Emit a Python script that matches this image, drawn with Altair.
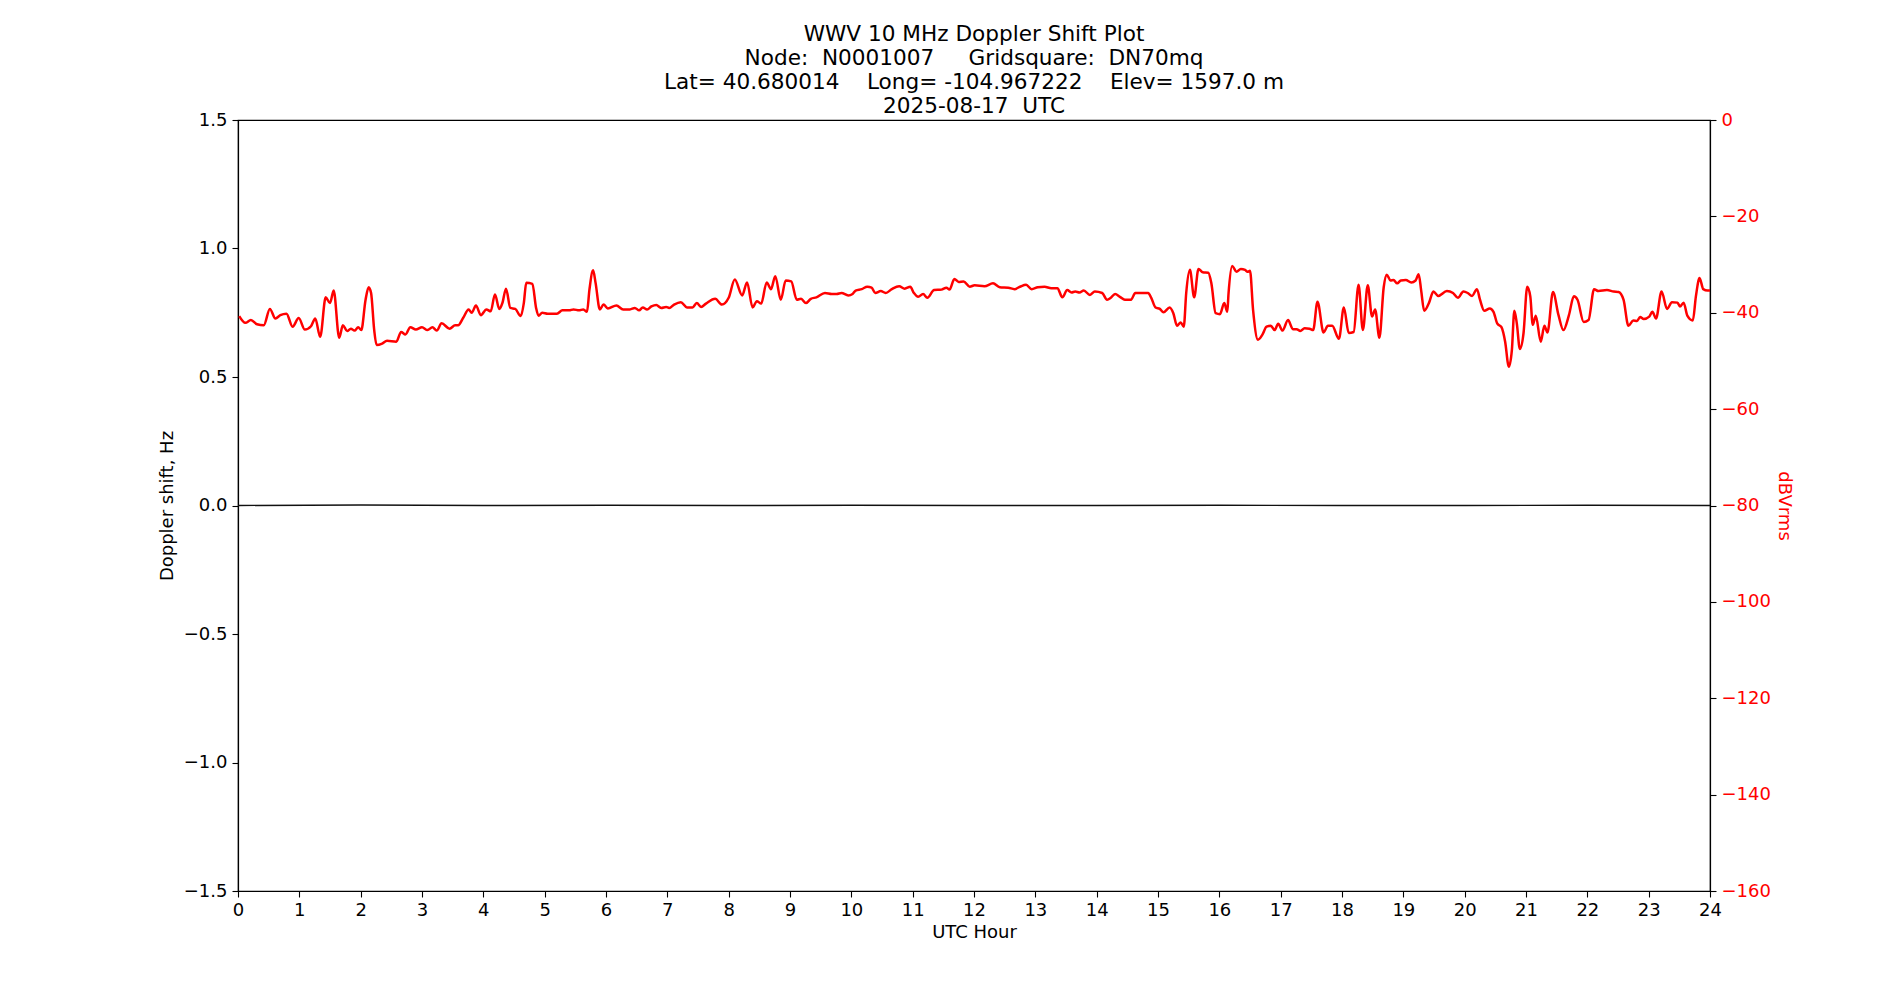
import altair as alt
import pandas as pd

# received signal level (UTC hour, dBVrms)
hours = [
    0.02, 0.12, 0.21, 0.31, 0.42, 0.52, 0.61, 0.69, 0.79, 0.89, 0.99, 1.09, 1.19, 1.26, 1.34,
    1.43, 1.50, 1.56, 1.65, 1.71, 1.78, 1.84, 1.90, 1.96, 2.01, 2.08, 2.13, 2.17, 2.22, 2.26,
    2.35, 2.43, 2.58, 2.66, 2.73, 2.81, 2.90, 3.00, 3.09, 3.17, 3.24, 3.32, 3.45, 3.54, 3.59,
    3.67, 3.76, 3.81, 3.88, 3.96,
    4.05, 4.12, 4.19, 4.26, 4.31, 4.37, 4.44, 4.52, 4.61, 4.66, 4.70, 4.80, 4.86, 4.90, 4.96,
    5.05, 5.20, 5.29, 5.40, 5.47, 5.56, 5.63, 5.69, 5.73, 5.79, 5.83, 5.90, 5.96, 6.03, 6.17,
    6.28, 6.39, 6.47, 6.54, 6.60, 6.67, 6.74, 6.82, 6.90, 6.98, 7.03, 7.11, 7.22, 7.32, 7.41,
    7.48, 7.55, 7.63, 7.78, 7.89, 8.00,
    8.10, 8.22, 8.30, 8.39, 8.46, 8.53, 8.62, 8.69, 8.76, 8.85, 8.93, 9.02, 9.11, 9.18, 9.26,
    9.34, 9.43, 9.57, 9.68, 9.76, 9.84, 9.95, 10.02, 10.07, 10.17, 10.26, 10.33, 10.39, 10.48,
    10.56, 10.66, 10.78, 10.87, 10.96, 11.02, 11.09, 11.17, 11.24, 11.35, 11.47, 11.55, 11.60,
    11.68, 11.75, 11.83, 11.93, 12.01,
    12.17, 12.31, 12.42, 12.56, 12.66, 12.75, 12.85, 12.94, 13.04, 13.15, 13.26, 13.36, 13.44,
    13.52, 13.59, 13.65, 13.72, 13.79, 13.89, 13.97, 14.09, 14.17, 14.23, 14.30, 14.38, 14.46,
    14.56, 14.63, 14.73, 14.84, 14.89, 14.96, 15.03, 15.09, 15.19, 15.25, 15.31, 15.37, 15.42,
    15.46, 15.52, 15.59, 15.66, 15.73, 15.82, 15.87, 15.94, 16.01, 16.08, 16.13,
    16.15, 16.21, 16.28, 16.35, 16.42, 16.46, 16.50, 16.55, 16.63, 16.70, 16.77, 16.84, 16.90,
    16.96, 17.03, 17.12, 17.20, 17.26, 17.32, 17.39, 17.47, 17.53, 17.60, 17.70, 17.77, 17.84,
    17.95, 18.03, 18.11, 18.19, 18.27, 18.34, 18.42, 18.49, 18.54, 18.61, 18.68, 18.73, 18.79,
    18.84, 18.90, 18.96, 19.04, 19.13, 19.20, 19.25, 19.29, 19.34, 19.42, 19.49, 19.57, 19.71,
    19.81, 19.89, 19.98, 20.05, 20.12, 20.20,
    20.25, 20.32, 20.41, 20.47, 20.53, 20.60, 20.66, 20.72, 20.77, 20.81, 20.85, 20.90, 20.96,
    21.02, 21.07, 21.11, 21.16, 21.24, 21.30, 21.35, 21.44, 21.53, 21.61, 21.70, 21.78, 21.84,
    21.94, 22.02, 22.11, 22.18, 22.32, 22.43, 22.51, 22.59, 22.67, 22.75, 22.81, 22.86, 22.92,
    23.01, 23.06, 23.12, 23.21, 23.30, 23.38, 23.47, 23.51, 23.57, 23.63, 23.72, 23.77, 23.83,
    23.89, 23.96, 24.00,
]
dbvrms = [
    -40.7, -42.1, -41.5, -42.4, -42.6, -39.2, -41.2, -40.5, -40.2, -42.9, -41.1, -43.5, -42.8, -41.2, -45.0,
    -36.8, -38.0, -35.4, -45.2, -42.6, -43.8, -43.3, -43.7, -43.0, -43.6, -37.3, -34.7, -35.9, -43.5, -46.7,
    -46.4, -45.8, -46.0, -44.0, -44.5, -43.0, -43.5, -43.0, -43.6, -43.0, -43.7, -42.2, -43.3, -42.6, -42.6,
    -41.1, -39.3, -40.0, -38.5, -40.5,
    -39.3, -39.7, -36.2, -39.2, -38.0, -35.0, -39.0, -39.2, -40.7, -38.0, -33.8, -34.0, -39.0, -40.6, -40.0,
    -40.2, -40.2, -39.5, -39.5, -39.3, -39.5, -39.3, -39.8, -35.2, -31.2, -33.8, -39.3, -38.3, -39.1, -38.5,
    -39.3, -39.3, -39.0, -39.5, -38.9, -39.3, -38.7, -38.4, -39.0, -38.8, -39.0, -38.3, -37.8, -38.9, -38.9,
    -38.0, -38.8, -38.1, -37.1, -38.3, -36.9,
    -33.1, -36.4, -33.7, -38.9, -37.6, -38.1, -33.7, -35.1, -32.4, -37.3, -33.3, -33.5, -37.3, -37.1, -38.0,
    -37.1, -36.8, -35.9, -36.1, -36.1, -35.9, -36.4, -36.1, -35.4, -35.1, -34.6, -34.8, -35.9, -35.5,
    -35.9, -35.1, -34.5, -35.0, -34.6, -35.9, -36.7, -36.1, -36.9, -35.3, -35.2, -34.8, -35.2,
    -33.0, -33.6, -33.5, -34.6, -34.3,
    -34.5, -33.9, -34.7, -34.8, -35.1, -34.6, -34.2, -35.1, -34.7, -34.6, -34.9, -34.9, -36.8,
    -35.3, -35.8, -35.6, -35.8, -35.4, -36.3, -35.6, -35.9, -37.3, -36.9, -36.1, -36.7, -37.3,
    -37.3, -35.9, -35.9, -35.9, -36.9, -38.9, -39.2, -39.9, -38.9, -40.1, -42.7, -42.0, -42.9,
    -35.9, -31.1, -36.8, -30.9, -31.6, -31.7, -33.9, -40.1, -40.3, -38.0, -39.8,
    -36.0, -30.3, -31.5, -30.9, -31.1, -31.5, -31.3, -39.4, -45.6, -44.6, -42.9, -42.7, -43.6,
    -42.3, -43.7, -41.5, -43.4, -43.4, -43.8, -43.2, -43.3, -43.6, -37.7, -44.1, -42.7, -42.7,
    -45.4, -38.9, -44.2, -44.0, -34.2, -43.6, -34.3, -40.8, -39.3, -45.2, -34.7, -32.1, -33.3,
    -33.2, -33.9, -33.3, -33.2, -33.7, -33.3, -32.0, -35.3, -39.6, -37.9, -35.6, -36.5, -35.5,
    -35.9, -36.9, -35.6, -35.9, -36.5, -35.1,
    -37.3, -39.6, -39.1, -39.8, -42.2, -43.0, -46.0, -51.2, -47.7, -39.6, -42.2, -47.5, -44.2,
    -34.6, -36.6, -42.5, -40.6, -46.0, -42.7, -44.1, -35.7, -40.5, -43.6, -40.5, -36.6, -37.3,
    -41.9, -41.5, -35.1, -35.5, -35.3, -35.6, -35.7, -37.3, -42.7, -41.6, -41.7, -40.9, -41.3,
    -40.8, -39.8, -41.2, -35.6, -39.2, -37.8, -37.9, -38.7, -37.9, -40.6, -41.6, -36.6, -32.8,
    -35.1, -35.4, -35.4,
]

# doppler shift stays on zero all day
doppler_hours = [0, 2, 4, 6, 8, 10, 12, 14, 16, 18, 20, 22, 24]
doppler_hz = [0.0, 0.002, 0.0, 0.001, 0.0, 0.001, 0.0, 0.0, 0.001, 0.0, 0.0, 0.001, 0.0]

title_lines = [
    "WWV 10 MHz Doppler Shift Plot",
    "Node:\u00a0 N0001007\u00a0\u00a0\u00a0\u00a0 Gridsquare:\u00a0 DN70mq",
    "Lat= 40.680014\u00a0\u00a0\u00a0 Long= -104.967222\u00a0\u00a0\u00a0 Elev= 1597.0 m",
    "2025-08-17\u00a0 UTC",
]

FONT = "DejaVu Sans"
RED = "#ff0000"

sig = pd.DataFrame({"hour": hours, "dbvrms": dbvrms})
dop = pd.DataFrame({"hour": doppler_hours, "doppler": doppler_hz})

x_enc = alt.X(
    "hour:Q",
    scale=alt.Scale(domain=[0, 24], nice=False, zero=False),
    axis=alt.Axis(values=list(range(25)), title="UTC Hour", format="d",
                  labelFlush=False, labelOverlap=False, labelPadding=4, titlePadding=4),
)

doppler_line = alt.Chart(dop).mark_line(color="#111111", strokeWidth=1.4).encode(
    x=x_enc,
    y=alt.Y(
        "doppler:Q",
        scale=alt.Scale(domain=[-1.5, 1.5], nice=False, zero=False),
        axis=alt.Axis(orient="left", values=[-1.5, -1.0, -0.5, 0.0, 0.5, 1.0, 1.5], format=".1f",
                      title="Doppler shift, Hz", labelFlush=False, labelPadding=5, titlePadding=7),
    ),
)

signal_line = alt.Chart(sig).mark_line(color=RED, strokeWidth=2.5, interpolate="monotone").encode(
    x=x_enc,
    y=alt.Y(
        "dbvrms:Q",
        scale=alt.Scale(domain=[-160, 0], nice=False, zero=False),
        axis=alt.Axis(orient="right", values=list(range(-160, 1, 20)), format="d",
                      title="dBVrms", labelColor=RED, titleColor=RED,
                      labelFlush=False, labelPadding=5, titlePadding=4),
    ),
)

chart = alt.layer(doppler_line, signal_line).resolve_scale(
    y="independent"
).properties(
    width=1472,
    height=771,
    title=alt.TitleParams(text=title_lines, font=FONT, fontSize=21.6, fontWeight="normal",
                          color="black", lineHeight=24, anchor="middle", offset=-7),
    autosize=alt.AutoSizeParams(type="none"),
    padding={"left": 230, "top": 112, "right": 170, "bottom": 90},
).configure_view(
    stroke="black", strokeWidth=1.2
).configure_axis(
    grid=False,
    domainColor="black",
    domainWidth=1.2,
    tickColor="black",
    tickSize=6,
    tickWidth=1.1,
    labelFont=FONT,
    labelFontSize=18,
    labelColor="black",
    titleFont=FONT,
    titleFontSize=18,
    titleFontWeight="normal",
    titleColor="black",
)

chart.save("out.html", embed_options={"renderer": "svg", "actions": False})
